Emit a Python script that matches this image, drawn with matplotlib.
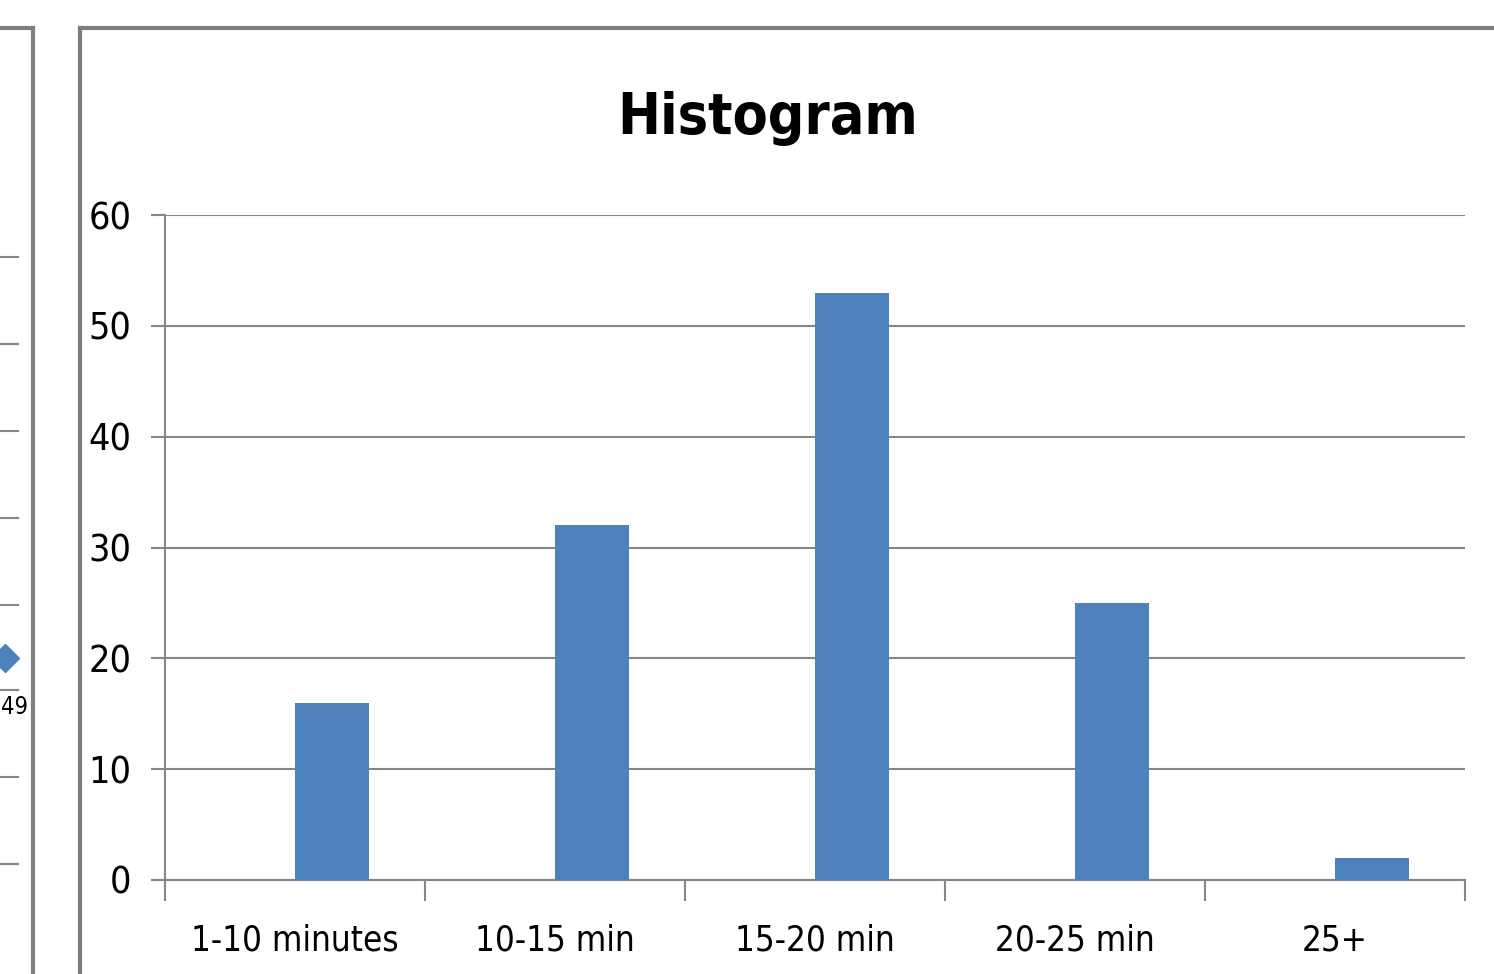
import matplotlib
matplotlib.use('Agg')
import matplotlib.pyplot as plt
from matplotlib.lines import Line2D
import numpy as np

# data
categories = ['1-10 minutes', '10-15 min', '15-20 min', '20-25 min', '25+']
counts = [16, 32, 53, 25, 2]
y_ticks = [0, 10, 20, 30, 40, 50, 60]

plt.rcParams['font.family'] = ['DejaVu Sans']
plt.rcParams['font.stretch'] = 'condensed'  # closer to the narrow Calibri look

fig = plt.figure(figsize=(14.94, 9.74), dpi=100)
ax = fig.add_axes([165 / 1494, 1 - 880 / 974, 1300 / 1494, 665 / 974])

grey = '#868686'
x = np.arange(len(categories))
# bars start at the category centre, like an Excel clustered column
ax.bar(x, counts, width=0.285, align='edge', color='#4f81bd', zorder=3)

ax.set_xlim(-0.5, len(categories) - 0.5)
ax.set_ylim(0, 60)
ax.set_yticks(y_ticks)
ax.set_yticklabels([str(v) for v in y_ticks])
ax.yaxis.grid(True, color=grey, linewidth=1.5, zorder=0)

# tick marks at category boundaries, labels in the middle
ax.set_xticks(np.arange(len(categories) + 1) - 0.5)
ax.set_xticklabels([])
ax.set_xticks(x, minor=True)
ax.set_xticklabels(categories, minor=True)
ax.tick_params(axis='x', which='minor', length=0, labelsize=25, pad=31)
ax.tick_params(axis='x', which='major', length=15, width=1.5, color=grey, direction='out')
ax.tick_params(axis='y', length=10, width=1.5, color=grey, labelsize=27, pad=14)

for s in ['top', 'right']:
    ax.spines[s].set_visible(False)
ax.spines['left'].set_color(grey)
ax.spines['left'].set_linewidth(1.5)
ax.spines['bottom'].set_color(grey)
ax.spines['bottom'].set_linewidth(1.5)

fig.text(768 / 1494, 1 - 118 / 974, 'Histogram', ha='center', va='center',
         fontsize=41, fontweight='bold')

# chart frame
frame = '#7f7f7f'
fig.add_artist(Line2D([80 / 1494, 80 / 1494], [0, 1 - 28 / 974], color=frame, lw=3))
fig.add_artist(Line2D([80 / 1494, 1], [1 - 28 / 974, 1 - 28 / 974], color=frame, lw=3))

# bit of the neighbouring chart at the left edge
fig.add_artist(Line2D([33 / 1494, 33 / 1494], [0, 1 - 28 / 974], color=frame, lw=3))
fig.add_artist(Line2D([0, 33 / 1494], [1 - 28 / 974, 1 - 28 / 974], color=frame, lw=3))
for yy in [257, 344, 431, 518, 605, 690, 777, 864]:
    fig.add_artist(Line2D([0, 18 / 1494], [1 - yy / 974] * 2, color=grey, lw=1.5))
fig.add_artist(Line2D([5 / 1494], [1 - 658 / 974], marker='D', markersize=14,
                      color='#4f81bd', linestyle='none'))
fig.text(1 / 1494, 1 - 707 / 974, '49', ha='left', va='center', fontsize=17)

fig.savefig('out.png', dpi=100)
